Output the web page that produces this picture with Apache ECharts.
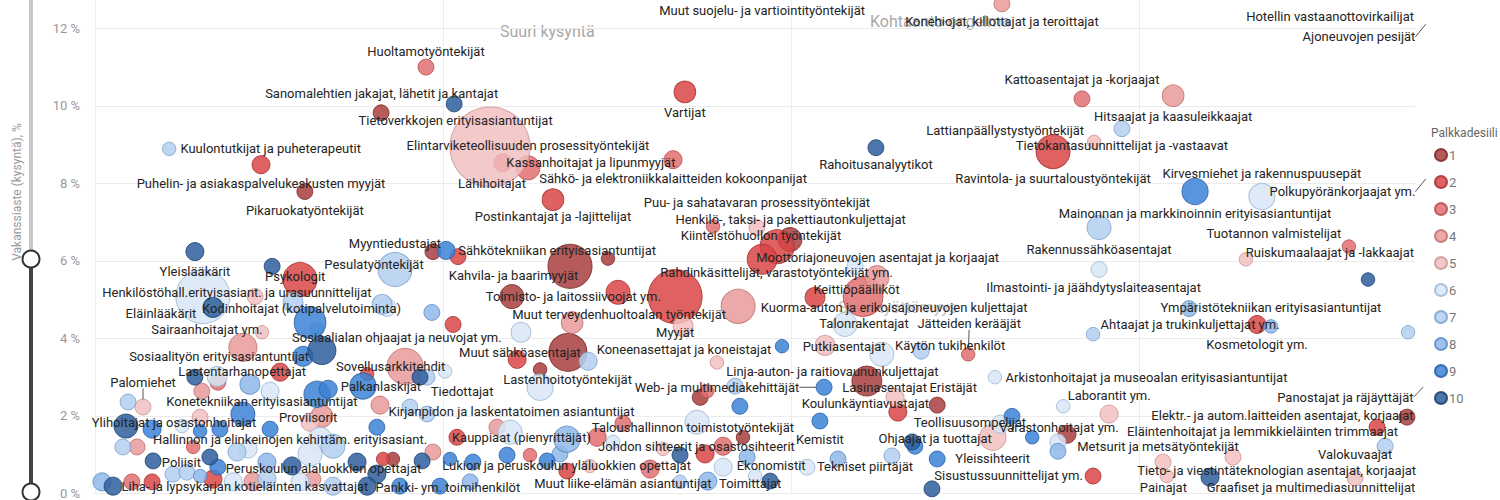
<!DOCTYPE html>
<html><head><meta charset="utf-8">
<script src="https://cdn.jsdelivr.net/npm/echarts@6/dist/echarts.min.js"></script>
<style>html,body{margin:0;padding:0;background:#fff}#c{width:1500px;height:500px}</style>
</head><body><div id="c"></div>
<script>
const names = [
'Muut suojelu- ja vartiointityöntekijät','Hotellin vastaanottovirkailijat','Ajoneuvojen pesijät','Polkupyöränkorjaajat ym.','Panostajat ja räjäyttäjät',
'Konehiojat, killottajat ja teroittajat','Huoltamotyöntekijät','Sanomalehtien jakajat, lähetit ja kantajat','Tietoverkkojen erityisasiantuntijat','Vartijat',
'Kuulontutkijat ja puheterapeutit','Puhelin- ja asiakaspalvelukeskusten myyjät','Pikaruokatyöntekijät','Lähihoitajat','Elintarviketeollisuuden prosessityöntekijät',
'Kassanhoitajat ja lipunmyyjät','Sähkö- ja elektroniikkalaitteiden kokoonpanijat','Rahoitusanalyytikot','Kattoasentajat ja -korjaajat','Hitsaajat ja kaasuleikkaajat',
'Lattianpäällystystyöntekijät','Tietokantasuunnittelijat ja -vastaavat','Ravintola- ja suurtaloustyöntekijät','Kirvesmiehet ja rakennuspuusepät','',
'Mainonnan ja markkinoinnin erityisasiantuntijat','Tuotannon valmistelijat','Rakennussähköasentajat','Ruiskumaalaajat ja -lakkaajat','',
'Ilmastointi- ja jäähdytyslaiteasentajat','Ympäristötekniikan erityisasiantuntijat','Kosmetologit ym.','Ahtaajat ja trukinkuljettajat ym.','',
'Arkistonhoitajat ja museoalan erityisasiantuntijat','Laborantit ym.','','','Varastonhoitajat ym.',
'','Metsurit ja metsätyöntekijät','','Sisustussuunnittelijat ym.','Elektr.- ja autom.laitteiden asentajat, korjaajat',
'Eläintenhoitajat ja lemmikkieläinten trimmaajat','Valokuvaajat','Tieto- ja viestintäteknologian asentajat, korjaajat','Painajat','',
'Graafiset ja multimediasuunnittelijat','','Myyjät','Muut sähköasentajat','Koneenasettajat ja koneistajat',
'Putkiasentajat','','Käytön tukihenkilöt','Jätteiden kerääjät','Lastenhoitotyöntekijät',
'','Linja-auton- ja raitiovaununkuljettajat','Web- ja multimediakehittäjät','Lasinasentajat','Eristäjät',
'Koulunkäyntiavustajat','','','','',
'','Kemistit','Taloushallinnon toimistotyöntekijät','','Johdon sihteerit ja osastosihteerit',
'','','','','Ekonomistit',
'','','Tekniset piirtäjät','Toimittajat','',
'Muut liike-elämän asiantuntijat','','Lukion ja peruskoulun yläluokkien opettajat','','',
'','','','','Kauppiaat (pienyrittäjät)',
'','','','','Ohjaajat ja tuottajat',
'','Yleissihteerit','','Teollisuusompelijat','Postinkantajat ja -lajittelijat',
'Puu- ja sahatavaran prosessityöntekijät','','Henkilö-, taksi- ja pakettiautonkuljettajat','Kiinteistöhuollon työntekijät','Moottoriajoneuvojen asentajat ja korjaajat',
'Myyntiedustajat','Sähkötekniikan erityisasiantuntijat','','Kahvila- ja baarimyyjät','',
'Rahdinkäsittelijät, varastotyöntekijät ym.','Toimisto- ja laitossiivoojat ym.','','Kuorma-auton ja erikoisajoneuvojen kuljettajat','Muut terveydenhuoltoalan työntekijät',
'','Keittiöpäälliköt','','','',
'Talonrakentajat','Yleislääkärit','Psykologit','','Pesulatyöntekijät',
'Henkilöstöhall.erityisasiant. ja urasuunnittelijat','','Eläinlääkärit','Kodinhoitajat (kotipalvelutoiminta)','',
'','','','','',
'Sairaanhoitajat ym.','','Sosiaalialan ohjaajat ja neuvojat ym.','Sosiaalityön erityisasiantuntijat','Sovellusarkkitehdit',
'','','','Tiedottajat','Lastentarhanopettajat',
'','','','','',
'','Palkanlaskijat','','','Palomiehet',
'','Konetekniikan erityisasiantuntijat','','','',
'Kirjanpidon ja laskentatoimen asiantuntijat','','Proviisorit','Ylihoitajat ja osastonhoitajat','',
'','','','','',
'','','Hallinnon ja elinkeinojen kehittäm. erityisasiant.','','',
'','','','Poliisit','',
'','','','','Peruskoulun alaluokkien opettajat',
'','','','','',
'','','','Liha- ja lypsykarjan kotieläinten kasvattajat','Pankki- ym. toimihenkilöt',
'','','','','',
'','','','','',
'','','','','',
'','','',''
];
const xValues = [
1.917,3.549,3.836,3.836,3.830, 2.606,0.951,1.032,0.822,1.695,
0.213,0.477,0.603,1.135,1.244, 1.172,1.661,2.244,2.836,3.098,
2.871,2.951,2.753,3.353,3.161, 2.885,3.603,2.885,3.307,3.658,
3.144,3.379,3.339,2.868,3.773, 2.586,2.782,2.914,2.635,2.793,
2.693,2.767,2.767,2.868,3.770, 3.684,3.707,3.621,3.080,3.069,
3.204,3.270,1.690,1.359,1.974, 2.098,2.261,2.374,2.509,1.279,
1.279,2.218,2.095,2.299,2.420, 2.307,1.739,1.759,1.853,1.839,
1.787,2.083,1.517,1.730,1.862, 1.805,1.753,1.681,1.632,1.874,
1.805,2.046,2.135,1.940,1.897, 1.761,1.681,1.595,1.356,1.422,
1.299,1.336,1.250,1.184,1.356, 1.443,1.489,1.193,2.290,2.348,
2.356,2.420,2.405,2.580,1.316, 1.902,1.776,1.960,1.997,1.917,
0.971,1.009,1.043,1.365,1.474, 1.667,1.198,1.503,1.848,1.371,
1.224,2.069,2.207,2.247,2.184, 2.155,0.287,0.509,0.589,0.862,
0.310,0.460,0.339,0.569,0.825, 0.839,0.968,1.029,0.618,0.638,
0.425,0.480,0.652,0.598,0.891, 0.782,0.934,0.954,1.006,0.532,
0.353,0.287,0.351,0.445,0.503, 0.307,0.770,0.638,0.670,0.138,
0.095,0.425,0.819,0.302,0.652, 0.905,0.954,0.618,0.089,0.164,
0.250,0.302,0.359,0.503,0.810, 1.040,1.155,0.684,0.647,0.618,
0.080,0.121,0.167,0.330,0.353, 0.408,0.440,0.494,0.282,0.566,
0.753,0.828,0.856,0.940,0.971, 1.020,1.086,0.810,0.020,0.991,
0.052,0.106,0.164,0.224,0.264, 0.302,0.339,0.397,0.454,0.494,
0.589,0.626,0.684,0.782,0.876, 1.078,1.213,1.417,2.601
];
const yValues = [
12.90,12.93,12.24,8.25,2.87, 12.63,11.00,10.05,9.82,10.36,
8.89,8.48,7.79,8.94,8.40, 8.53,8.61,8.92,10.18,10.26,
9.07,9.41,8.82,7.66,7.79, 6.86,6.37,5.78,6.04,5.52,
4.77,4.31,4.36,4.11,4.16, 3.00,2.25,2.05,1.99,1.53,
1.45,1.09,1.33,0.45,1.97, 1.71,1.22,0.40,0.45,0.81,
0.42,0.94,4.31,3.64,3.80, 3.82,3.59,3.67,3.59,2.74,
3.20,2.90,2.74,2.48,2.28, 2.10,2.48,2.64,2.25,2.77,
3.38,1.87,1.81,1.84,1.45, 1.22,1.02,0.99,1.15,0.94,
0.68,0.68,0.89,0.32,0.45, 0.32,0.30,0.63,0.58,0.71,
0.84,1.02,0.99,0.99,1.40, 1.45,1.33,1.58,0.97,1.33,
1.22,0.89,0.12,1.45,7.58, 6.86,6.89,6.37,6.55,6.04,
6.24,6.27,6.11,5.86,6.06, 5.08,5.08,5.19,4.83,4.41,
4.16,5.06,5.08,5.57,5.86, 4.36,6.24,5.86,5.52,5.78,
5.08,5.08,4.80,4.93,4.88, 4.80,4.67,4.36,4.41,4.23,
3.77,4.16,3.69,3.54,3.28, 3.08,3.00,3.00,3.15,3.13,
2.87,3.00,3.02,2.82,2.64, 2.64,2.77,2.56,2.69,2.23,
2.36,2.05,2.28,1.97,1.99, 2.23,2.05,1.84,1.74,1.66,
1.74,1.61,1.66,1.66,1.71, 1.45,1.71,1.22,1.40,1.02,
1.20,1.20,0.84,0.94,0.68, 1.07,1.15,0.81,1.20,0.71,
0.81,0.89,0.89,0.84,1.07, 0.89,0.81,0.50,0.30,0.19,
0.19,0.30,0.30,0.50,0.55, 0.45,0.37,0.30,0.30,0.37,
0.30,0.37,0.19,0.19,0.19, 0.30,3.46,3.41,1.79
];
const sizes = [
7,7,5,5,5, 7,7,7,7,13,
5,9,7,178,16, 9,9,7,7,13,
5,7,32,19,19, 16,5,7,5,5,
7,5,9,5,5, 5,5,9,7,9,
5,7,7,7,7, 7,7,7,5,7,
9,7,11,40,5, 11,16,7,5,19,
5,25,7,9,7, 9,7,5,7,7,
5,7,7,16,5, 9,9,7,5,7,
9,7,7,7,5, 9,5,9,7,5,
7,7,5,7,19, 9,5,16,7,7,
7,7,7,19,13, 7,5,32,16,25,
7,9,7,54,5, 81,16,16,32,13,
11,11,44,16,7, 16,9,7,32,32,
81,7,11,11,11, 9,7,7,28,5,
22,5,22,11,36, 5,7,7,5,9,
7,7,11,11,9, 7,19,19,9,7,
7,16,9,7,13, 7,7,9,16,9,
5,5,7,7,7, 7,7,16,16,16,
7,7,7,7,7, 9,9,9,5,9,
9,5,5,7,7, 5,7,9,9,7,
9,7,7,7,7, 5,9,9,9,9,
9,7,9,9,7, 7,9,9,9
];
const deciles = [
3,2,2,3,4, 4,3,10,1,2,
7,2,1,5,3, 2,3,10,3,4,
5,7,2,6,9, 7,3,6,5,10,
8,8,2,7,7, 6,6,5,9,1,
9,8,6,2,1, 2,7,5,5,5,
10,5,5,1,9, 5,6,7,3,6,
1,1,9,5,1, 2,1,3,9,7,
5,9,3,6,1, 3,2,10,5,8,
6,6,8,10,6, 8,7,3,2,5,
9,8,3,9,8, 3,6,6,7,10,
9,9,10,5,2, 5,3,2,1,2,
1,9,2,1,1, 2,1,2,4,4,
6,2,3,4,6, 6,10,10,2,7,
6,5,10,7,7, 6,8,2,9,7,
4,5,10,9,4, 2,10,7,6,2,
3,10,6,8,6, 4,9,9,9,5,
7,9,4,5,4, 7,7,5,10,9,
6,9,9,9,9, 2,4,7,6,6,
7,4,10,10,9, 7,6,8,3,10,
10,2,1,10,4, 9,9,10,8,9,
10,3,2,7,7, 8,2,6,4,7,
6,4,7,10,9, 8,2,7,6
];

// Layout / style tables (not data)
const labelOffsets = {
'Muut suojelu- ja vartiointityöntekijät':[0,17],'Hotellin vastaanottovirkailijat':[0,24],'Ajoneuvojen pesijät':[-71,18],
'Polkupyöränkorjaajat ym.':[-87.5,18],'Panostajat ja räjäyttäjät':[-82.5,15],'Konehiojat, killottajat ja teroittajat':[0,18],
'Huoltamotyöntekijät':[0,-16],'Sanomalehtien jakajat, lähetit ja kantajat':[-72.5,-10],'Tietoverkkojen erityisasiantuntijat':[74.5,8],
'Vartijat':[0,21],'Kuulontutkijat ja puheterapeutit':[101.5,0],'Puhelin- ja asiakaspalvelukeskusten myyjät':[0,19],
'Pikaruokatyöntekijät':[0,19],'Lähihoitajat':[2,37],'Elintarviketeollisuuden prosessityöntekijät':[0,-22],
'Kassanhoitajat ja lipunmyyjät':[88,0],'Sähkö- ja elektroniikkalaitteiden kokoonpanijat':[0,19],'Rahoitusanalyytikot':[0,17],
'Kattoasentajat ja -korjaajat':[0,-19],'Hitsaajat ja kaasuleikkaajat':[0,21],'Lattianpäällystystyöntekijät':[-89,-11],
'Tietokantasuunnittelijat ja -vastaavat':[0,17],'Ravintola- ja suurtaloustyöntekijät':[0,27],'Kirvesmiehet ja rakennuspuusepät':[0,-23],
'Mainonnan ja markkinoinnin erityisasiantuntijat':[96,-14],'Tuotannon valmistelijat':[-75,-13],'Rakennussähköasentajat':[0,-20],
'Ruiskumaalaajat ja -lakkaajat':[84,-7],'Ilmastointi- ja jäähdytyslaiteasentajat':[-95.5,-21],'Ympäristötekniikan erityisasiantuntijat':[0,-19],
'Kosmetologit ym.':[0,20],'Ahtaajat ja trukinkuljettajat ym.':[97,-10],'Arkistonhoitajat ja museoalan erityisasiantuntijat':[151.5,0],
'Laborantit ym.':[46,-11],'Varastonhoitajat ym.':[-8,-7],'Metsurit ja metsätyöntekijät':[100,-5],'Sisustussuunnittelijat ym.':[-84.5,-1],
'Elektr.- ja autom.laitteiden asentajat, korjaajat':[-124.5,-2],'Eläintenhoitajat ja lemmikkieläinten trimmaajat':[-114.5,4],
'Valokuvaajat':[-30,8],'Tieto- ja viestintäteknologian asentajat, korjaajat':[-78.5,-7],'Painajat':[-3.5,11],
'Graafiset ja multimediasuunnittelijat':[101,10],'Myyjät':[-8,6],'Muut sähköasentajat':[-48,0],'Koneenasettajat ja koneistajat':[-98,3],
'Putkiasentajat':[19,1],'Käytön tukihenkilöt':[29,-6],'Jätteiden kerääjät':[1,-31],'Lastenhoitotyöntekijät':[27.5,-8],
'Linja-auton- ja raitiovaununkuljettajat':[-34.5,-10],'Web- ja multimediakehittäjät':[-107,0],'Lasinasentajat':[-10.5,-10],
'Eristäjät':[16,-18],'Koulunkäyntiavustajat':[-32.5,-9],'Kemistit':[0,18],'Taloushallinnon toimistotyöntekijät':[70,4],
'Johdon sihteerit ja osastosihteerit':[-46.5,9],'Ekonomistit':[24,8],'Tekniset piirtäjät':[27,8],'Toimittajat':[-20,2],
'Muut liike-elämän asiantuntijat':[-85,2],'Lukion ja peruskoulun yläluokkien opettajat':[-83.5,-4],'Kauppiaat (pienyrittäjät)':[-45.5,-2],
'Ohjaajat ja tuottajat':[23,-3],'Yleissihteerit':[55.5,0],'Teollisuusompelijat':[-23,-15],'Postinkantajat ja -lajittelijat':[0,17],
'Puu- ja sahatavaran prosessityöntekijät':[0,-25],'Henkilö-, taksi- ja pakettiautonkuljettajat':[13.5,-27],'Kiinteistöhuollon työntekijät':[-29,-4],
'Moottoriajoneuvojen asentajat ja korjaajat':[115.5,-2],'Myyntiedustajat':[-38,-8],'Sähkötekniikan erityisasiantuntijat':[111,0],
'Kahvila- ja baarimyyjät':[-56.5,9],'Rahdinkäsittelijät, varastotyöntekijät ym.':[101.5,-24],'Toimisto- ja laitossiivoojat ym.':[61.5,0],
'Kuorma-auton ja erikoisajoneuvojen kuljettajat':[156,1],'Muut terveydenhuoltoalan työntekijät':[47,-8],'Keittiöpäälliköt':[41.5,-8],
'Talonrakentajat':[19,-1],'Yleislääkärit':[0,20],'Psykologit':[23,10],'Pesulatyöntekijät':[-21,-5],
'Henkilöstöhall.erityisasiant. ja urasuunnittelijat':[34,-4],'Eläinlääkärit':[-52,6],'Kodinhoitajat (kotipalvelutoiminta)':[8.5,6],
'Sairaanhoitajat ym.':[-36,-18],'Sosiaalialan ohjaajat ja neuvojat ym.':[75,-13],'Sosiaalityön erityisasiantuntijat':[-84,0],
'Sovellusarkkitehdit':[-14.5,0],'Tiedottajat':[17,20],'Lastentarhanopettajat':[-38,-1],'Palkanlaskijat':[18,0],'Palomiehet':[0,-25],
'Konetekniikan erityisasiantuntijat':[19,-13],'Kirjanpidon ja laskentatoimen asiantuntijat':[101.5,4],'Proviisorit':[-2,-5],
'Ylihoitajat ja osastonhoitajat':[48,-4],'Hallinnon ja elinkeinojen kehittäm. erityisasiant.':[-43,-7],'Poliisit':[-28.5,5],
'Peruskoulun alaluokkien opettajat':[31.5,3],'Liha- ja lypsykarjan kotieläinten kasvattajat':[143,5],'Pankki- ym. toimihenkilöt':[8,1]
};
const leaderLined = ['Ajoneuvojen pesijät','Polkupyöränkorjaajat ym.','Panostajat ja räjäyttäjät','Web- ja multimediakehittäjät','Palomiehet','Jätteiden kerääjät'];

const fills = ['', '#a83e3e','#d94545','#e07070','#e99a9a','#f2c0c0','#d8e6f6','#b4cff0','#8fb9ea','#3b82d6','#2d5e9e'];
const borders = ['', '#7d2a2a','#a83232','#b85050','#c27272','#cf9696','#9fb8d6','#7fa3cf','#5d8cc6','#2a62a8','#1e426f'];
const FONT = 'Roboto, "Noto Sans", sans-serif';
const sym = v => 6 * Math.sqrt(v[2]);

const series = [];
for (let d = 1; d <= 10; d++) {
  const idx = [];
  for (let i = 0; i < names.length; i++) if (deciles[i] === d) idx.push(i);
  series.push({
    type: 'scatter', name: String(d), clip: true, z: 2, silent: true,
    symbolSize: sym,
    itemStyle: { color: fills[d], borderColor: borders[d], borderWidth: 1, opacity: 0.85 },
    data: idx.map(i => ({ name: names[i], value: [xValues[i], yValues[i], sizes[i]] }))
  });
}
const labIdx = [];
for (let i = 0; i < names.length; i++) if (names[i] !== '') labIdx.push(i);
series.push({
  type: 'scatter', name: 'labels', clip: false, z: 5, silent: true,
  symbolSize: sym,
  itemStyle: { color: 'rgba(0,0,0,0)', borderColor: 'rgba(0,0,0,0)' },
  label: { show: true, position: 'inside', formatter: p => p.name, fontFamily: FONT, fontSize: 13, color: '#252423', opacity: 1 },
  labelLine: { show: false, lineStyle: { color: '#555', width: 1, opacity: 1 } },
  labelLayout: p => { const o = labelOffsets[names[labIdx[p.dataIndex]]] || [0, 0]; return { dx: o[0], dy: o[1] }; },
  data: labIdx.map(i => ({ name: names[i], value: [xValues[i], yValues[i], sizes[i]],
    labelLine: { show: leaderLined.includes(names[i]) } }))
});

const chart = echarts.init(document.getElementById('c'), null, { renderer: 'svg' });
chart.setOption({
  animation: false,
  grid: { left: 95, right: 85, top: 0, bottom: 5.5, containLabel: false },
  xAxis: { type: 'value', min: 0, max: 3.793, interval: 1,
    axisLine: { show: false }, axisTick: { show: false }, axisLabel: { show: false },
    splitLine: { show: true, showMaxLine: false, lineStyle: { color: '#ececec', width: 1 } } },
  yAxis: { type: 'value', min: 0, max: 12.73, interval: 2,
    axisLine: { show: false }, axisTick: { show: false },
    axisLabel: { formatter: '{value} %', color: '#999', fontSize: 13, fontFamily: FONT, margin: 15, showMaxLabel: false },
    splitLine: { show: true, showMaxLine: false, lineStyle: { color: '#ececec', width: 1 } } },
  title: { text: 'Palkkadesiili', left: 1426, top: 122, textStyle: { fontSize: 12, fontWeight: 'normal', color: '#666', fontFamily: FONT } },
  legend: { data: ['1','2','3','4','5','6','7','8','9','10'], orient: 'vertical', left: 1429, top: 143,
    icon: 'circle', itemWidth: 12, itemHeight: 12, itemGap: 13,
    textStyle: { color: '#777', fontSize: 13, fontFamily: FONT, lineHeight: 12, padding: [0, 0, 0, -3] } },
  graphic: { elements: [
    { type: 'text', z: 0, left: 500, top: 23, style: { text: 'Suuri kysyntä', fill: '#a8a8a8', font: '16px ' + FONT } },
    { type: 'text', z: 0, left: 870, top: 13, style: { text: 'Kohtaanto-ongelma', fill: '#a8a8a8', font: '16px ' + FONT } },
    { type: 'text', z: 0, left: 838, top: 299, style: { text: 'Suuri työttömyys', fill: '#c4c4c4', font: '16px ' + FONT } },
    { type: 'text', x: 17, y: 192, rotation: Math.PI / 2, style: { text: 'Vakanssiaste (kysyntä), %', fill: '#999', font: '12px ' + FONT, align: 'center', verticalAlign: 'middle' } },
    { type: 'line', shape: { x1: 31, y1: 0, x2: 31, y2: 259 }, style: { stroke: '#c8c8c8', lineWidth: 4 } },
    { type: 'line', shape: { x1: 31, y1: 259, x2: 31, y2: 493 }, style: { stroke: '#444', lineWidth: 4 } },
    { type: 'circle', shape: { cx: 31, cy: 259, r: 8.5 }, style: { fill: '#fff', stroke: '#333', lineWidth: 2 } },
    { type: 'circle', shape: { cx: 31, cy: 492, r: 8.5 }, style: { fill: '#fff', stroke: '#333', lineWidth: 2 } }
  ] },
  series: series
});
</script>
</body></html>
